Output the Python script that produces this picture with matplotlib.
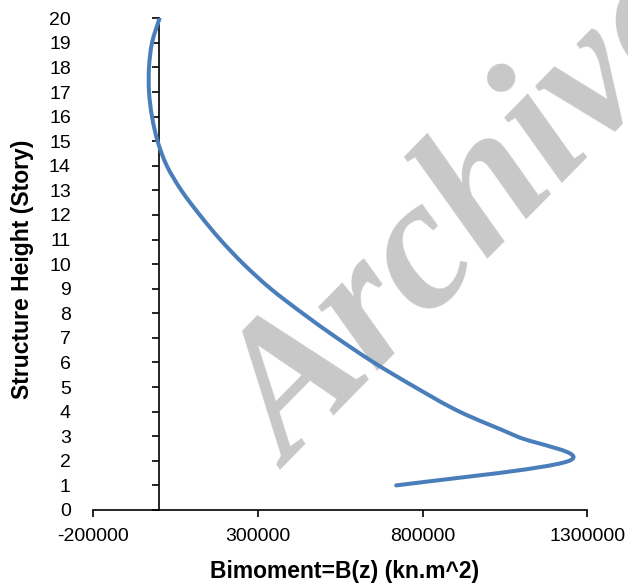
import numpy as np
import matplotlib.pyplot as plt
from matplotlib.path import Path
from matplotlib.patches import PathPatch

plt.rcParams['font.family'] = ['Liberation Sans', 'DejaVu Sans']

# values (one point per story)
story = [1, 2, 3, 4, 5, 6, 7, 8, 9, 10, 11, 12, 13, 14, 15, 16, 17, 18, 19, 20]
bimoment = [720000, 1245000, 1085000, 912000, 777000, 652000, 540000, 436000, 339000, 257000,
            186000, 124000, 68000, 24000, -4000, -21000, -30000, -30000, -21000, 2000]

xticks = [-200000, 300000, 800000, 1300000]
xticklabels = ['-200000', '300000', '800000', '1300000']
yticks = list(range(0, 21))

line_color = '#4a7ebb'


def smooth_path(xs, ys):
    # excel style smoothed line: cubic bezier through every point
    p = np.column_stack([xs, ys]).astype(float)
    p_ext = np.vstack([p[0], p, p[-1]])
    verts = [p[0]]
    codes = [Path.MOVETO]
    for i in range(len(p) - 1):
        p0, p1, p2, p3 = p_ext[i], p_ext[i + 1], p_ext[i + 2], p_ext[i + 3]
        c1 = p1 + (p2 - p0) / 6.0
        c2 = p2 - (p3 - p1) / 6.0
        verts += [c1, c2, p2]
        codes += [Path.CURVE4] * 3
    return Path(verts, codes)


fig = plt.figure(figsize=(6.28, 5.87), dpi=100)
ax = fig.add_axes([0.1481, 0.1312, 0.7871, 0.8377])

ax.set_xlim(-200000, 1300000)
ax.set_ylim(0, 20)

patch = PathPatch(smooth_path(bimoment, story), facecolor='none', edgecolor=line_color,
                  lw=2.9, capstyle='round', joinstyle='round', zorder=3)
ax.add_patch(patch)

for s in ['left', 'right', 'top']:
    ax.spines[s].set_visible(False)
ax.spines['bottom'].set_linewidth(1.2)

ax.set_xticks(xticks)
ax.set_xticklabels(xticklabels)
ax.set_yticks(yticks)
ax.tick_params(axis='x', direction='out', length=5, width=1.2, pad=8, labelsize=14)
ax.tick_params(axis='y', length=0, pad=16, labelsize=14)

# vertical axis crossing at x = 0
sec = ax.secondary_yaxis(200000 / 1500000)
sec.set_yticks(yticks)
sec.tick_params(axis='y', direction='out', length=5, width=1.2, labelleft=False)
sec.spines['left'].set_linewidth(1.2)

ax.set_xlabel('Bimoment=B(z) (kn.m^2)', fontsize=16.5, fontweight='bold')
ax.set_ylabel('Structure Height (Story)', fontsize=16.5, fontweight='bold')
ax.xaxis.set_label_coords(0.508, -0.102)
ax.yaxis.set_label_coords(-0.119, 0.49)

# watermark
ax.text(290 / 628, 1 - 470 / 587, 'Archive', transform=fig.transFigure,
        fontsize=136, family='Liberation Serif', fontweight='bold', style='italic',
        color='#c8c8c8', rotation=45.5, rotation_mode='anchor', ha='left', va='baseline',
        zorder=2)

fig.savefig('out.png', dpi=100)
